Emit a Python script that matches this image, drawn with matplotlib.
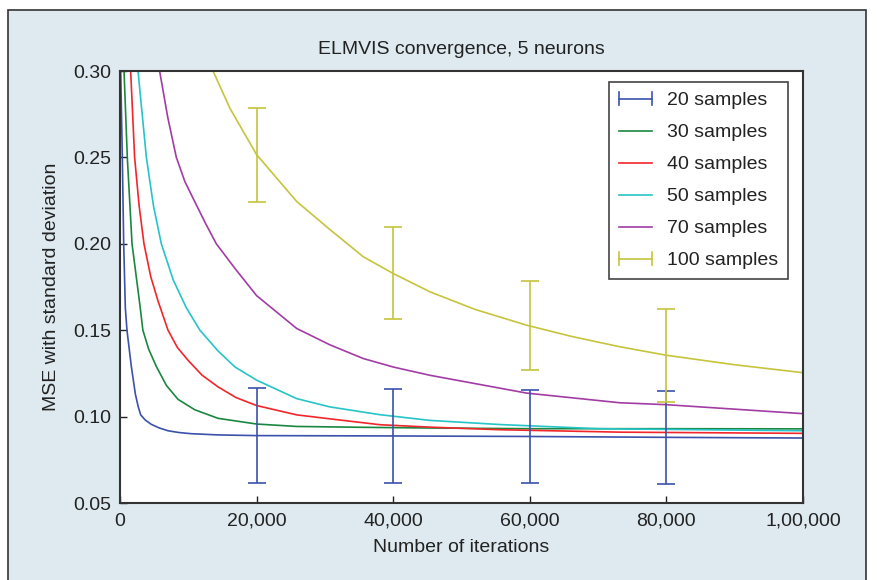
import matplotlib
matplotlib.use('Agg')
import matplotlib.pyplot as plt
from matplotlib.patches import Rectangle
from matplotlib.lines import Line2D
from matplotlib.legend_handler import HandlerBase

plt.rcParams['font.family'] = ['Liberation Sans', 'DejaVu Sans']

# 20 samples
x20 = [100, 340, 540, 780, 1020, 1660, 2250, 2650, 3030, 3700, 4590, 5700, 7030, 8600, 10440, 14350, 20000, 40000, 60000, 80000, 100000]
y20 = [0.300, 0.250, 0.200, 0.163, 0.150, 0.129, 0.113, 0.106, 0.101, 0.098, 0.0955, 0.0935, 0.0918, 0.0908, 0.0901, 0.0894, 0.089, 0.0888, 0.0885, 0.088, 0.0876]
# 30 samples
x30 = [590, 1070, 1760, 2900, 3350, 4200, 5320, 6800, 8490, 10930, 14350, 20000, 25870, 35620, 45390, 60000, 80000, 100000]
y30 = [0.300, 0.250, 0.200, 0.165, 0.150, 0.139, 0.129, 0.118, 0.110, 0.104, 0.099, 0.0957, 0.0943, 0.0938, 0.0934, 0.093, 0.093, 0.0929]
# 40 samples
x40 = [1560, 2140, 2800, 3510, 4500, 5560, 7030, 8400, 9960, 12000, 14350, 17000, 20000, 25870, 30750, 38070, 45390, 55640, 73200, 100000]
y40 = [0.300, 0.250, 0.222, 0.200, 0.181, 0.167, 0.150, 0.140, 0.1326, 0.124, 0.1172, 0.111, 0.1064, 0.101, 0.0987, 0.0953, 0.0939, 0.0924, 0.091, 0.0903]
# 50 samples
x50 = [2640, 3860, 4900, 6050, 7800, 9710, 11700, 14350, 16840, 20000, 25870, 30750, 38070, 45390, 55640, 70000, 100000]
y50 = [0.300, 0.250, 0.222, 0.200, 0.179, 0.163, 0.150, 0.138, 0.1287, 0.1211, 0.1104, 0.1056, 0.1011, 0.0978, 0.0954, 0.093, 0.0918]
# 70 samples
x70 = [5800, 7000, 8250, 9500, 10930, 12500, 14100, 16840, 20000, 25870, 30750, 35620, 40000, 45390, 59540, 73200, 80000, 100000]
y70 = [0.300, 0.273, 0.250, 0.236, 0.2245, 0.212, 0.200, 0.1857, 0.170, 0.151, 0.1415, 0.1336, 0.1287, 0.1239, 0.1136, 0.108, 0.1069, 0.1017]
# 100 samples
x100 = [13620, 16100, 20000, 25870, 30750, 35620, 40000, 45390, 52000, 59540, 66000, 73200, 80000, 90000, 100000]
y100 = [0.300, 0.2784, 0.2516, 0.2245, 0.2082, 0.1925, 0.1828, 0.1722, 0.162, 0.1529, 0.1465, 0.1404, 0.1355, 0.130, 0.1254]

# error bars
err_x = [20000, 40000, 60000, 80000]
err20_y = [0.089, 0.0888, 0.0885, 0.088]
err20_e = [0.0273, 0.027, 0.027, 0.027]
err100_y = [0.2515, 0.1831, 0.1525, 0.1354]
err100_e = [0.0272, 0.0264, 0.0257, 0.027]

xticks = [0, 20000, 40000, 60000, 80000, 100000]
xticklabels = ['0', '20,000', '40,000', '60,000', '80,000', '1,00,000']
yticks = [0.05, 0.10, 0.15, 0.20, 0.25, 0.30]
yticklabels = ['0.05', '0.10', '0.15', '0.20', '0.25', '0.30']

c20 = '#3b51ab'
c30 = '#1a8740'
c40 = '#f2262a'
c50 = '#26c4c8'
c70 = '#a23ca4'
c100 = '#c6c43c'

fig = plt.figure(figsize=(8.77, 5.80), dpi=100)
fig.patch.set_facecolor('white')
fig.patches.append(Rectangle((8 / 877, -0.02), 858 / 877, 1 - 10 / 580 + 0.02,
                             transform=fig.transFigure, facecolor='#deeaf0',
                             edgecolor='#333333', linewidth=1.2, zorder=-10))

ax = fig.add_axes([120 / 877, 1 - 503 / 580, 683 / 877, 432 / 580])
ax.set_facecolor('white')

lw = 1.2
ax.plot(x20, y20, color=c20, lw=lw)
ax.plot(x30, y30, color=c30, lw=lw)
ax.plot(x40, y40, color=c40, lw=lw)
ax.plot(x50, y50, color=c50, lw=lw)
ax.plot(x70, y70, color=c70, lw=lw)
ax.plot(x100, y100, color=c100, lw=lw)
ax.errorbar(err_x, err20_y, yerr=err20_e, fmt='none', ecolor=c20, elinewidth=1.2, capsize=6.5, capthick=1.2)
ax.errorbar(err_x, err100_y, yerr=err100_e, fmt='none', ecolor=c100, elinewidth=1.2, capsize=6.5, capthick=1.2)

ax.set_xlim(0, 100000)
ax.set_ylim(0.05, 0.30)
ax.set_xticks(xticks)
ax.set_xticklabels(xticklabels)
ax.set_yticks(yticks)
ax.set_yticklabels(yticklabels)
ax.tick_params(direction='in', length=5, width=1, labelsize=14, colors='#222222', pad=6,
               top=False, right=False)
ax.tick_params(axis='x', pad=7)
for s in ax.spines.values():
    s.set_color('#333333')
    s.set_linewidth(1.5)

ax.set_title('ELMVIS convergence, 5 neurons', fontsize=14, color='#222222', pad=12)
ax.set_xlabel('Number of iterations', fontsize=14, color='#222222', labelpad=7)
ax.set_ylabel('MSE with standard deviation', fontsize=14, color='#222222', labelpad=10)


class HandlerCapLine(HandlerBase):
    def create_artists(self, legend, orig_handle, xdescent, ydescent, width, height, fontsize, trans):
        c = orig_handle.get_color()
        yc = height / 2 - ydescent
        h = height * 0.45
        arts = [Line2D([-xdescent, width - xdescent], [yc, yc], color=c, lw=1.2),
                Line2D([-xdescent, -xdescent], [yc - h, yc + h], color=c, lw=1.2),
                Line2D([width - xdescent, width - xdescent], [yc - h, yc + h], color=c, lw=1.2)]
        for a in arts:
            a.set_transform(trans)
        return arts


h20 = Line2D([], [], color=c20)
h100 = Line2D([], [], color=c100)
handles = [h20,
           Line2D([], [], color=c30, lw=lw),
           Line2D([], [], color=c40, lw=lw),
           Line2D([], [], color=c50, lw=lw),
           Line2D([], [], color=c70, lw=lw),
           h100]
labels = ['20 samples', '30 samples', '40 samples', '50 samples', '70 samples', '100 samples']
leg = ax.legend(handles, labels, loc='upper right', bbox_to_anchor=(1 - 15 / 683, 1 - 11 / 432),
                borderaxespad=0, fontsize=14, fancybox=False, framealpha=1,
                handlelength=1.7, handletextpad=0.77, labelspacing=0.74, borderpad=0.5,
                handler_map={h20: HandlerCapLine(), h100: HandlerCapLine()})
leg.get_frame().set_edgecolor('#444444')
leg.get_frame().set_linewidth(1.2)
for t in leg.get_texts():
    t.set_color('#222222')

fig.savefig('out.png', dpi=100)
